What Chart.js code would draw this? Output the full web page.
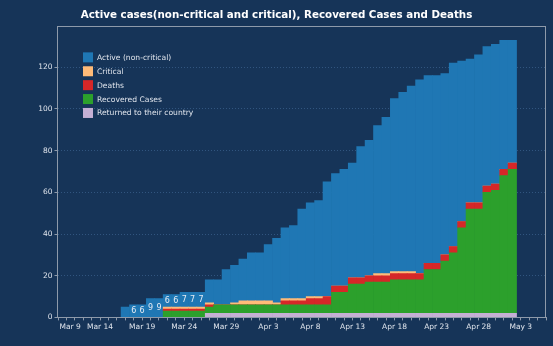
<!DOCTYPE html>
<html>
<head>
<meta charset="utf-8">
<script src="https://cdn.jsdelivr.net/npm/chart.js@4.4.1/dist/chart.umd.min.js"></script>
<style>
  html, body { margin: 0; padding: 0; background: #163458; }
  #wrap { width: 553px; height: 346px; }
</style>
</head>
<body>
<div id="wrap"><canvas id="casesChart" width="553" height="346"></canvas></div>
<script>
// one category per day, Mar 9 .. May 6
var monthNames = ['Jan', 'Feb', 'Mar', 'Apr', 'May'];
var days = [];
for (var i = 0; i < 59; i++) {
	var d = new Date(2020, 2, 9 + i);
	days.push(monthNames[d.getMonth()] + ' ' + d.getDate());
}
var tickDays = ['Mar 9', 'Mar 14', 'Mar 19', 'Mar 24', 'Mar 29', 'Apr 3', 'Apr 8', 'Apr 13', 'Apr 18', 'Apr 23', 'Apr 28', 'May 3'];
var yTicks = [0, 20, 40, 60, 80, 100, 120];

// daily figures from Mar 17 to May 2
var firstDay = 'Mar 17';
var returned = [0, 0, 0, 0, 0, 0, 0, 0, 0, 0,
	2, 2, 2, 2, 2, 2, 2, 2, 2, 2, 2, 2, 2, 2, 2, 2, 2, 2, 2, 2, 2, 2, 2, 2, 2, 2, 2, 2, 2, 2, 2, 2, 2, 2, 2, 2, 2];
var recovered = [0, 0, 0, 0, 0, 3, 3, 3, 3, 3,
	3, 4, 4, 4, 4, 4, 4, 4, 4, 4, 4, 4, 4, 4, 4, 10, 10, 14, 14, 15, 15, 15, 16, 16, 16, 16, 21, 21, 25, 29, 41, 50, 50, 58, 59, 66, 69];
var deaths = [0, 0, 0, 0, 0, 1, 1, 1, 1, 1,
	1, 0, 0, 0, 0, 0, 0, 0, 0, 2, 2, 2, 3, 3, 4, 3, 3, 3, 3, 3, 3, 3, 3, 3, 3, 3, 3, 3, 3, 3, 3, 3, 3, 3, 3, 3, 3];
var critical = [0, 0, 0, 0, 0, 1, 1, 1, 1, 1,
	1, 0, 0, 1, 2, 2, 2, 2, 1, 1, 1, 1, 1, 1, 0, 0, 0, 0, 0, 0, 1, 1, 1, 1, 1, 0, 0, 0, 0, 0, 0, 0, 0, 0, 0, 0, 0];
var active = [5, 6, 6, 9, 9, 6, 6, 7, 7, 7,
	11, 12, 17, 18, 20, 23, 23, 27, 31, 34, 35, 43, 45, 46, 55, 54, 56, 55, 63, 65, 71, 75, 83, 86, 89, 93, 90, 90, 87, 88, 77, 69, 71, 67, 67, 62, 59];

// days whose non-critical count is printed on the bar
var printedDays = ['Mar 18', 'Mar 19', 'Mar 20', 'Mar 21', 'Mar 22', 'Mar 23', 'Mar 24', 'Mar 25', 'Mar 26'];

var textColor = '#dfe4ec';
var spineColor = '#8e9aaa';
var gridColor = '#31557f';
var tickFont = '7.5px "DejaVu Sans"';

function spread(values) {
	var out = [];
	var start = days.indexOf(firstDay);
	for (var i = 0; i < days.length; i++) {
		var k = i - start;
		out.push(k >= 0 && k < values.length ? values[k] : null);
	}
	return out;
}

function series(label, values, color) {
	return {
		label: label,
		data: spread(values),
		backgroundColor: color,
		borderWidth: 0,
		barPercentage: 1,
		categoryPercentage: 1
	};
}

var decorations = {
	id: 'decorations',
	afterDatasetsDraw: function(chart) {
		var ctx = chart.ctx;
		var idx = chart.data.datasets.length - 1;
		var ds = chart.data.datasets[idx];
		var meta = chart.getDatasetMeta(idx);
		ctx.save();
		ctx.font = '8px "DejaVu Sans"';
		ctx.fillStyle = '#e6ebf3';
		ctx.textAlign = 'center';
		ctx.textBaseline = 'middle';
		meta.data.forEach(function(bar, i) {
			if (printedDays.indexOf(days[i]) < 0) return;
			ctx.fillText(ds.data[i], bar.x, (bar.y + bar.base) / 2 + 0.5);
		});
		ctx.restore();
	},
	afterDraw: function(chart) {
		var ctx = chart.ctx;
		var a = chart.chartArea;
		ctx.save();
		// frame around the plot
		ctx.strokeStyle = spineColor;
		ctx.lineWidth = 1;
		ctx.strokeRect(Math.round(a.left) - 0.5, Math.round(a.top) + 0.5,
			Math.round(a.right - a.left), Math.round(a.bottom - a.top));

		// first date sits on the y axis, so its label is set just right of it
		var xs = chart.scales.x;
		ctx.font = tickFont;
		ctx.fillStyle = textColor;
		ctx.textAlign = 'left';
		ctx.textBaseline = 'middle';
		ctx.fillText(tickDays[0], xs.getPixelForValue(days.indexOf(tickDays[0])) + 1.5, a.bottom + 10);

		// legend, top of the stack first
		ctx.font = '7.6px "DejaVu Sans"';
		var x = a.left + 25;
		var y = a.top + 26;
		var sets = chart.data.datasets;
		for (var k = sets.length - 1, row = 0; k >= 0; k--, row++) {
			var yy = y + row * 13.9;
			ctx.fillStyle = sets[k].backgroundColor;
			ctx.fillRect(x, yy, 10, 10);
			ctx.fillStyle = textColor;
			ctx.fillText(sets[k].label, x + 14, yy + 5.5);
		}
		ctx.restore();
	}
};

Chart.defaults.font.family = '"DejaVu Sans", sans-serif';

var ctx = document.getElementById('casesChart').getContext('2d');
var myChart = new Chart(ctx, {
	type: 'bar',
	data: {
		labels: days,
		datasets: [
			series('Returned to their country', returned, '#c5b0d5'),
			series('Recovered Cases', recovered, '#2ca02c'),
			series('Deaths', deaths, '#d62728'),
			series('Critical', critical, '#ffbb78'),
			series('Active (non-critical)', active, '#1f77b4')
		]
	},
	options: {
		responsive: false,
		animation: false,
		layout: { padding: { left: 7, right: 7, top: 0, bottom: 11.6 } },
		plugins: {
			legend: { display: false },
			tooltip: { enabled: false },
			title: {
				display: true,
				text: 'Active cases(non-critical and critical), Recovered Cases and Deaths',
				color: '#ffffff',
				font: { size: 10.3, weight: 'bold' },
				padding: { top: 9.5, bottom: 4.5 }
			}
		},
		scales: {
			x: {
				stacked: true,
				offset: false,
				grid: { drawOnChartArea: false, offset: false, tickLength: 3, tickColor: spineColor },
				border: { display: false },
				ticks: {
					autoSkip: false,
					maxRotation: 0,
					padding: 2.5,
					color: textColor,
					font: { size: 7.5 },
					callback: function(value) {
						var lab = this.getLabelForValue(value);
						if (lab === tickDays[0]) return '';
						return tickDays.indexOf(lab) >= 0 ? lab : '';
					}
				}
			},
			y: {
				stacked: true,
				min: 0,
				max: 139.65,
				afterBuildTicks: function(scale) {
					scale.ticks = yTicks.map(function(v) { return { value: v }; });
				},
				afterFit: function(scale) { scale.width = 51; },
				grid: { color: gridColor, tickLength: 3.5, tickColor: spineColor, tickBorderDash: [] },
				border: { display: false, dash: [1, 2] },
				ticks: { padding: 2, color: textColor, font: { size: 7.5 } }
			}
		}
	},
	plugins: [decorations]
});
</script>
</body>
</html>
